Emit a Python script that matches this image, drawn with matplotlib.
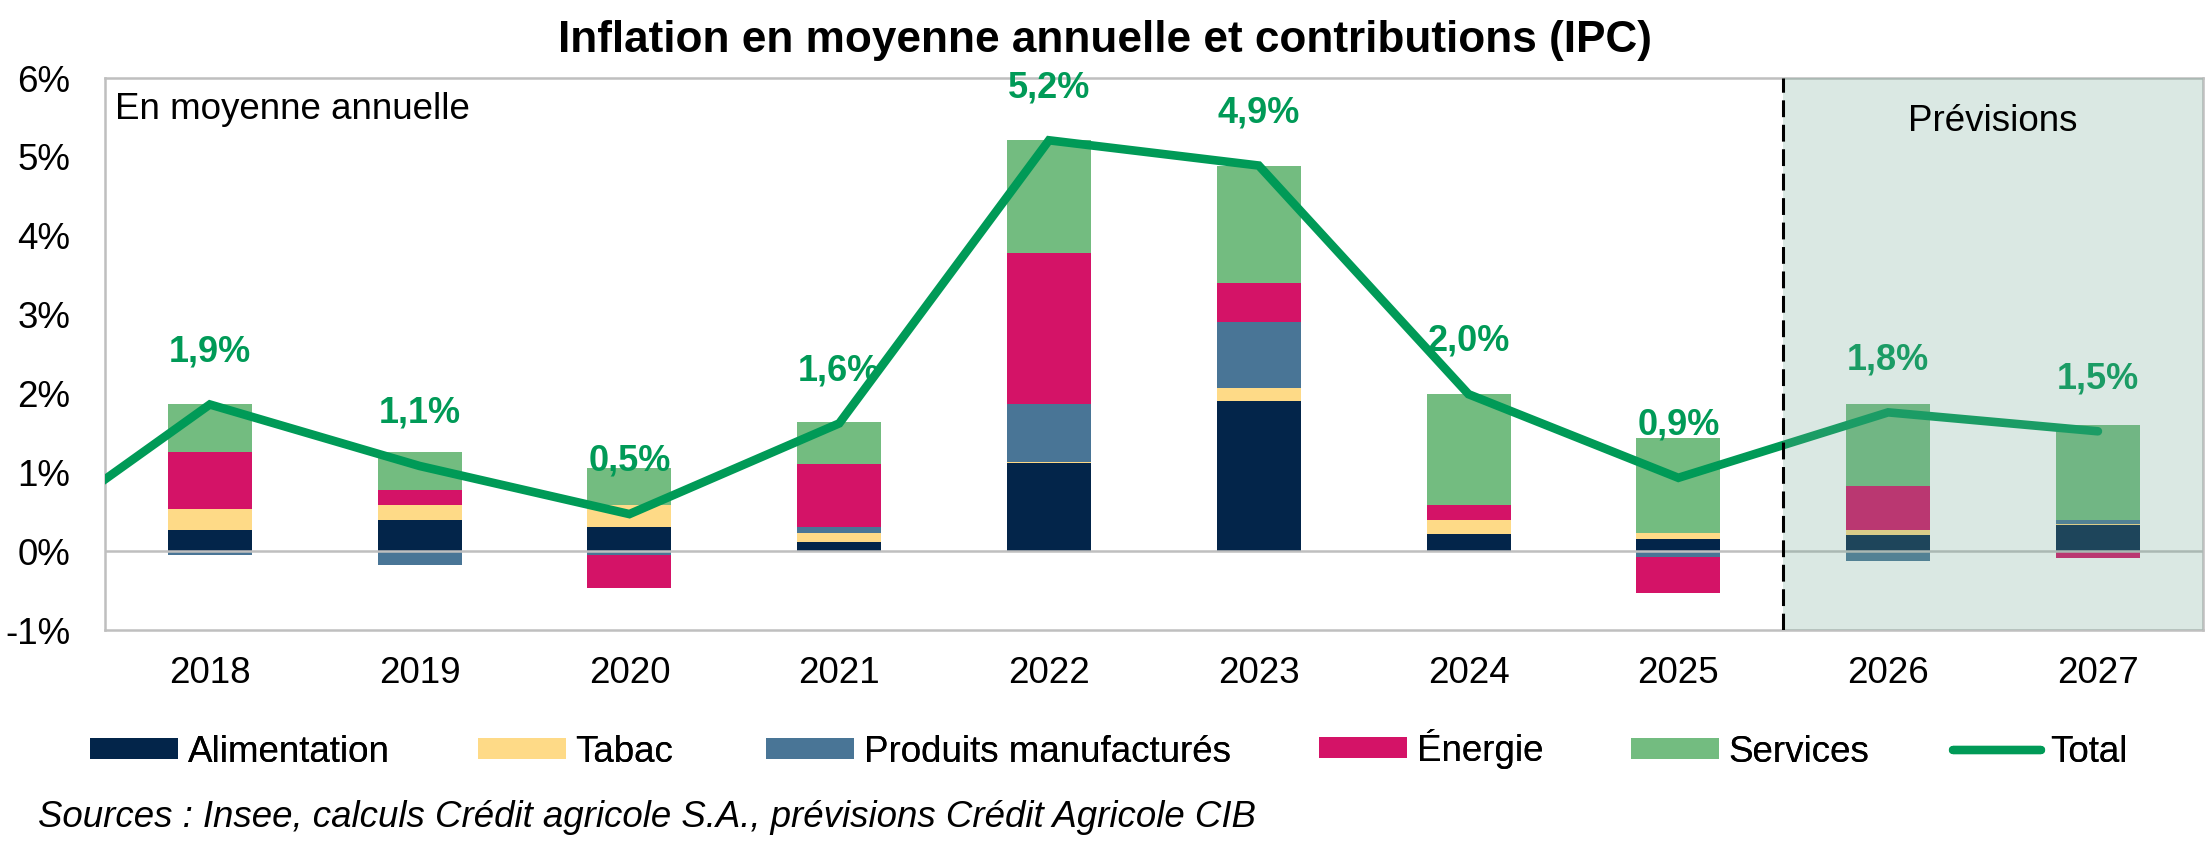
import numpy as np
import matplotlib
matplotlib.use("Agg")
import matplotlib.pyplot as plt
from matplotlib.patches import Patch
from matplotlib.lines import Line2D

plt.rcParams['font.family'] = ['Liberation Sans', 'DejaVu Sans']

# Contributions to annual average inflation (points of %)
years = ['2018', '2019', '2020', '2021', '2022', '2023', '2024', '2025', '2026', '2027']
alimentation = [0.27, 0.40, 0.31, 0.11, 1.12, 1.91, 0.22, 0.16, 0.20, 0.33]
tabac = [0.27, 0.19, 0.28, 0.12, 0.01, 0.16, 0.17, 0.07, 0.07, 0.02]
produits = [-0.05, -0.17, -0.05, 0.08, 0.73, 0.83, 0.0, -0.07, -0.12, 0.04]
energie = [0.72, 0.19, -0.42, 0.79, 1.92, 0.50, 0.19, -0.46, 0.55, -0.09]
services = [0.60, 0.48, 0.46, 0.54, 1.43, 1.49, 1.41, 1.21, 1.04, 1.21]
total = [1.86, 1.08, 0.47, 1.62, 5.21, 4.89, 1.99, 0.93, 1.76, 1.52]
total_2017 = -0.04   # previous year, only visible as the line entering from the left edge

series = [
    ('Alimentation', alimentation, '#03254a'),
    ('Tabac', tabac, '#feda87'),
    ('Produits manufacturés', produits, '#497596'),
    ('Énergie', energie, '#d41367'),
    ('Services', services, '#73bc80'),
]
line_color = '#009a57'
first_forecast = 8   # index of 2026
fs = 26.5

fig = plt.figure(figsize=(22.09, 8.46), dpi=100)
ax = fig.add_axes([0.0475, 0.2553, 0.9497, 0.6525])

x = np.arange(len(years))
pos_bottom = np.zeros(len(years))
neg_bottom = np.zeros(len(years))
for name, vals, col in series:
    v = np.array(vals)
    bottom = np.where(v >= 0, pos_bottom, neg_bottom)
    ax.bar(x, v, width=0.4, bottom=bottom, color=col, zorder=2)
    pos_bottom += np.where(v >= 0, v, 0)
    neg_bottom += np.where(v < 0, v, 0)

ax.axhline(0, color='#bfbfbf', lw=1.8, zorder=3)

line_x = np.concatenate([[-1], x])
line_y = [total_2017] + total
ax.plot(line_x, line_y, color=line_color, lw=6.2, solid_capstyle='round',
        solid_joinstyle='miter', zorder=4)

for xi, t in zip(x, total):
    ax.annotate(f"{t:.1f}%".replace('.', ','), (xi, t), xytext=(0, 38),
                textcoords='offset points', ha='center', va='center',
                fontsize=26, fontweight='bold', color=line_color, zorder=5)

# forecast zone
ax.axvspan(first_forecast - 0.5, len(years) - 0.5, color='#6fa590', alpha=0.25,
           lw=0, zorder=6)
ax.axvline(first_forecast - 0.5, color='black', lw=2.2, dashes=(5.5, 2.5), zorder=7)
ax.text(8.5, 5.45, 'Prévisions', ha='center', va='center', fontsize=fs, zorder=8)
ax.text(-0.45, 5.6, 'En moyenne annuelle', ha='left', va='center', fontsize=fs, zorder=8)

ax.set_xlim(-0.5, len(years) - 0.5)
ax.set_ylim(-1, 6)
ax.set_xticks(x)
ax.set_xticklabels(years)
ax.set_yticks(range(-1, 7))
ax.set_yticklabels([f"{v}%" for v in range(-1, 7)])
ax.tick_params(axis='both', length=0, labelsize=fs)
ax.tick_params(axis='y', pad=25)
ax.tick_params(axis='x', pad=19)
for s in ax.spines.values():
    s.set_color('#bfbfbf')
    s.set_linewidth(1.8)

fig.text(0.5, 0.952, 'Inflation en moyenne annuelle et contributions (IPC)',
         ha='center', va='center', fontsize=31.8, fontweight='bold')

# legend entries placed one by one, like the spreadsheet layout
handles = [Patch(facecolor=col, edgecolor='none', label=name) for name, _, col in series]
handles.append(Line2D([0], [0], color=line_color, lw=6, solid_capstyle='round', label='Total'))
legend_x = [90, 478, 766, 1319, 1631, 1953]
for h, lx in zip(handles, legend_x):
    ly = 0.111
    if h.get_label() == 'Énergie':
        ly += 0.004   # the accent makes this entry taller, keep it on the same row
    leg = fig.legend(handles=[h], loc='center left', bbox_to_anchor=(lx / 2209, ly),
                     frameon=False, fontsize=fs, handlelength=2.4, handleheight=0.52,
                     handletextpad=0.25, borderpad=0, borderaxespad=0)
    fig.add_artist(leg)

fig.text(38 / 2209, 1 - 817 / 846,
         'Sources : Insee, calculs Crédit agricole S.A., prévisions Crédit Agricole CIB',
         ha='left', va='center', fontsize=26.4, style='italic')

fig.savefig('out.png', dpi=100)
